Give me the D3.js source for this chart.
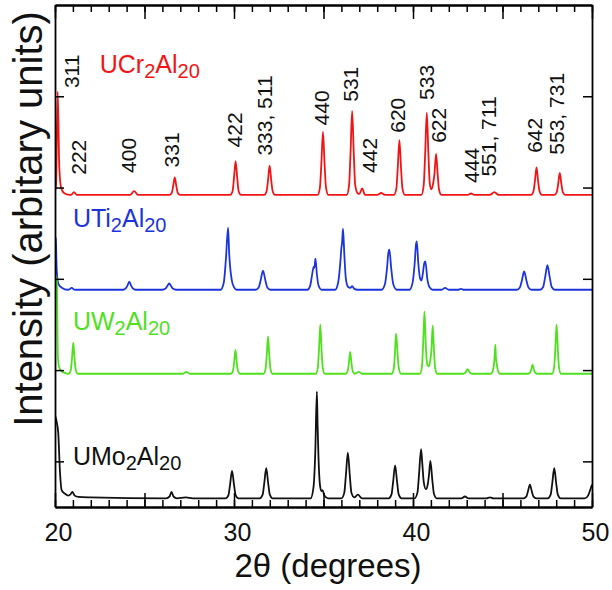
<!DOCTYPE html>
<html>
<head>
<meta charset="utf-8">
<script src="https://cdn.jsdelivr.net/npm/d3@7"></script>
<style>
  html, body { margin: 0; padding: 0; background: #fff; }
  svg { display: block; font-family: "Liberation Sans", Arial, Helvetica, sans-serif; }
</style>
</head>
<body>
<svg id="chart" width="612" height="590"></svg>
<script>
// ---------------- DATA ----------------
const seriesNames = ["UCr2Al20", "UTi2Al20", "UW2Al20", "UMo2Al20"];
const seriesColors = ["#f21414", "#1c34dc", "#4fe01e", "#111111"];
// vertical offsets of each pattern (arbitrary units)
const seriesOffsets = [342, 238, 146, 9.5];

// [2theta, intensity above own baseline]
const ucr = [[20.0,4],[20.06,12],[20.15,113],[20.24,30],[20.34,8],[20.5,2],[20.8,0],
  [20.9,0],[21.06,3],[21.22,0],
  [24.2,0],[24.42,4],[24.64,0],
  [26.39,0],[26.52,2],[26.60,9.5],[26.69,19],[26.78,9.5],[26.86,2],[26.99,0],
  [29.79,0],[29.92,4],[30.0,18.5],[30.09,37],[30.18,18.5],[30.26,4],[30.39,0],
  [31.69,0],[31.82,4],[31.90,16],[31.99,32],[32.08,16],[32.16,4],[32.29,0],
  [34.67,0],[34.8,8],[34.88,34],[34.97,69],[35.06,34],[35.14,8],[35.27,0],
  [36.3,0],[36.43,11],[36.51,46],[36.60,92],[36.69,46],[36.77,11],[36.9,2],[37.0,1],[37.16,7],[37.32,0],
  [38.0,0],[38.22,2],[38.44,0],
  [38.94,0],[39.07,7],[39.15,30],[39.24,60],[39.33,30],[39.41,7],[39.54,0],
  [40.47,0],[40.6,11],[40.68,45],[40.77,90],[40.86,45],[40.94,12],[41.03,6],[41.12,12],[41.2,23],[41.29,45],[41.38,22],[41.46,5],[41.59,0],
  [43.05,0],[43.24,1.5],[43.43,0],
  [44.3,0],[44.54,3],[44.78,0],
  [46.6,0],[46.73,4],[46.81,15],[46.90,30],[46.99,15],[47.07,4],[47.2,0],
  [47.9,0],[48.03,3],[48.11,12],[48.20,24],[48.29,12],[48.37,3],[48.5,0],
  [50,0]];

const uti = [[20.0,58],[20.04,56],[20.1,20],[20.2,6],[20.4,2],[20.7,0],
  [20.75,0],[20.93,2],[21.1,0],
  [23.8,0],[23.95,1.5],[24.05,4.5],[24.15,9],[24.25,4.5],[24.35,1.5],[24.5,0],
  [26.0,0],[26.16,1],[26.26,3.5],[26.38,7],[26.5,3.5],[26.6,1],[26.76,0],
  [29.25,0],[29.43,8],[29.55,34],[29.67,68],[29.73,40],[29.78,26],[29.88,10],[30.0,3],[30.15,0],
  [31.2,0],[31.38,2.5],[31.49,10.5],[31.62,21],[31.75,10.5],[31.86,2.5],[32.04,0],
  [34.1,0],[34.25,4],[34.36,16],[34.45,25],[34.49,24],[34.55,34],[34.63,17],[34.72,5],[34.9,0],
  [35.65,0],[35.82,8],[35.94,30],[36.0,46],[36.04,52],[36.09,67],[36.16,40],[36.25,12],[36.38,3],[36.5,2],[36.6,4],[36.72,1],[36.9,0],
  [38.25,0],[38.43,6],[38.55,24],[38.62,40],[38.68,44],[38.78,24],[38.9,6],[39.1,0],
  [39.8,0],[39.97,7],[40.09,28],[40.17,50],[40.21,53],[40.3,28],[40.4,12],[40.47,10],[40.55,18],[40.63,29],[40.69,31],[40.8,12],[40.92,3],[41.1,0],
  [41.6,0],[41.79,2],[42.0,0],
  [42.5,0],[42.68,1],[42.85,0],
  [45.8,0],[45.97,2.5],[46.08,10],[46.21,20],[46.34,10],[46.45,2.5],[46.62,0],
  [47.1,0],[47.27,3],[47.38,13.5],[47.51,27],[47.64,13.5],[47.75,3],[47.92,0],
  [50,0]];

const uw = [[20.0,109],[20.1,104],[20.16,20],[20.22,8],[20.35,3],[20.55,1],[20.75,0],
  [20.77,0],[20.88,4],[20.95,17],[21.02,34],[21.09,17],[21.16,4],[21.27,0],
  [27.15,0],[27.34,2],[27.53,0],
  [29.83,0],[29.94,3],[30.01,13],[30.08,26],[30.15,13],[30.22,3],[30.33,0],
  [31.65,0],[31.76,5],[31.83,20.5],[31.90,41],[31.97,20.5],[32.04,5],[32.15,0],
  [34.57,0],[34.68,6.5],[34.75,27],[34.82,54],[34.89,27],[34.96,6.5],[35.07,0],
  [36.24,0],[36.35,3],[36.42,12],[36.49,24],[36.56,12],[36.63,3],[36.74,0],[36.97,2],[37.15,0],
  [38.8,0],[38.92,5],[38.99,22],[39.05,44],[39.1,34],[39.15,18],[39.22,5],[39.33,0],
  [40.39,0],[40.5,8],[40.57,34],[40.64,68],[40.71,34],[40.78,12],[40.87,8],[40.96,14],[41.03,26],[41.10,53],[41.17,26],[41.24,6],[41.35,0],
  [42.8,0],[42.94,1.5],[43.05,5],[43.16,1.5],[43.3,0],
  [44.35,0],[44.47,4],[44.54,14],[44.6,32],[44.63,18],[44.67,12],[44.74,4],[44.85,0],
  [46.43,0],[46.54,1.2],[46.61,5],[46.68,10],[46.75,5],[46.82,1.2],[46.93,0],
  [47.77,0],[47.88,6.5],[47.95,27],[48.02,54],[48.09,27],[48.16,6.5],[48.27,0],
  [50,0]];

const umo = [[20.0,91],[20.08,85],[20.18,72],[20.28,28],[20.37,9],[20.56,5],[20.75,3],[20.85,4],[20.97,7],[21.1,3],[21.3,1.5],[22,1],
  [26.2,0],[26.4,2],[26.51,7],[26.62,2],[26.82,0],[27.3,1],[27.7,0],
  [29.53,0],[29.69,3.6],[29.78,15],[29.89,30],[30.0,15],[30.09,3.6],[30.25,0],
  [31.44,0],[31.6,4],[31.69,16.5],[31.80,33],[31.91,16.5],[32.0,4],[32.16,0],
  [34.28,0],[34.44,12],[34.54,50],[34.63,117],[34.67,80],[34.72,45],[34.8,15],[34.88,8],[34.95,9],[35.05,3],[35.25,0],
  [36.0,0],[36.16,6],[36.25,25],[36.36,50],[36.47,25],[36.56,6],[36.72,1],[36.92,4],[37.15,0],
  [38.64,0],[38.8,4.3],[38.89,18],[39.0,36],[39.11,18],[39.2,4.3],[39.36,0],
  [40.09,0],[40.25,6.5],[40.34,27],[40.45,54],[40.52,38],[40.6,18],[40.72,10],[40.83,16],[40.89,25],[40.97,41],[41.08,20],[41.17,5],[41.33,0],
  [42.7,0],[42.9,2],[43.1,0],
  [44.1,0],[44.3,1],[44.5,0],
  [46.17,0],[46.33,1.8],[46.42,7.5],[46.53,15],[46.64,7.5],[46.73,1.8],[46.89,0],
  [47.53,0],[47.69,4],[47.78,16.5],[47.89,33],[48.0,16.5],[48.09,4],[48.25,0],
  [49.6,0],[49.78,3],[49.88,8],[50,15]];

const seriesData = [ucr, uti, uw, umo];

// Miller-index annotations (label anchor in data coordinates)
const hklLabels = ["311","222","400","331","422","333, 511","440","531","442","620","533","622","444","551, 711","642","553, 731"];
const hklTheta  = [21.34,21.73,24.53,26.93,30.45,32.12,35.31,36.93,37.99,39.55,41.17,41.84,43.69,44.64,47.21,48.44];
const hklLevel  = [459,364,366,372,394,385,418,444,366,410,446,399,355,362,388,386];

// series-name label anchors (data coordinates)
const nameTheta = [22.5, 21.0, 21.0, 21.0];
const nameLevel = [476, 307, 194, 46];

const xMajorTicks = [20, 25, 30, 35, 40, 45, 50];
const xLabelTicks = [20, 30, 40, 50];
const yTicks = [50, 150, 250, 350, 450];
const xTitle = "2\u03B8 (degrees)";
const yTitle = "Intensity (arbitary units)";

// ---------------- DRAW ----------------
const svg = d3.select("#chart");
const L = 55, R = 592, T = 5, B = 507;
const x = d3.scaleLinear().domain([20, 50]).range([L, R]);
const y = d3.scaleLinear().domain([0, 550]).range([B, T]);

svg.append("defs").append("clipPath").attr("id", "clip")
  .append("rect").attr("x", L).attr("y", T).attr("width", R - L).attr("height", B - T);

// traces
const line = d3.line().x(d => x(d[0])).y(d => y(d[1])).curve(d3.curveMonotoneX);
const traces = svg.append("g").attr("clip-path", "url(#clip)");
seriesData.forEach((s, i) => {
  const off = seriesOffsets[i];
  traces.append("path")
    .datum(s.map(p => [p[0], p[1] + off]))
    .attr("d", line)
    .attr("fill", "none")
    .attr("stroke", seriesColors[i])
    .attr("stroke-width", 1.8)
    .attr("stroke-linejoin", "round");
});

// axes
function styleAxis(g) {
  g.selectAll("path.domain").attr("stroke", "#000").attr("stroke-width", 1.8);
  g.selectAll(".tick line").attr("stroke", "#000").attr("stroke-width", 1.5);
}
const minorX = d3.range(20, 51, 1);
svg.append("g").attr("transform", `translate(0,${B})`)
  .call(d3.axisBottom(x).tickValues(minorX).tickSize(-7).tickSizeOuter(0).tickFormat(""))
  .call(styleAxis);
svg.append("g").attr("transform", `translate(0,${B})`)
  .call(d3.axisBottom(x).tickValues(xMajorTicks).tickSize(-14).tickSizeOuter(0).tickFormat(""))
  .call(styleAxis);
const xl = svg.append("g").attr("transform", `translate(0,${B})`)
  .call(d3.axisBottom(x).tickValues(xLabelTicks).tickSize(0).tickPadding(16).tickFormat(d3.format("d")));
xl.select("path.domain").remove();
xl.selectAll("text").attr("font-size", 25).attr("fill", "#111").attr("dx", 3)
  .attr("font-family", "'Liberation Sans', Arial, sans-serif");

svg.append("g").attr("transform", `translate(0,${T})`)
  .call(d3.axisTop(x).tickValues(minorX).tickSize(-7).tickSizeOuter(0).tickFormat(""))
  .call(styleAxis);
svg.append("g").attr("transform", `translate(0,${T})`)
  .call(d3.axisTop(x).tickValues(xMajorTicks).tickSize(-14).tickSizeOuter(0).tickFormat(""))
  .call(styleAxis);
svg.append("g").attr("transform", `translate(${L},0)`)
  .call(d3.axisLeft(y).tickValues(yTicks).tickSize(-9).tickSizeOuter(0).tickFormat(""))
  .call(styleAxis);
svg.append("g").attr("transform", `translate(${R},0)`)
  .call(d3.axisRight(y).tickValues(yTicks).tickSize(-9).tickSizeOuter(0).tickFormat(""))
  .call(styleAxis);

// axis titles
svg.append("text").attr("x", 328).attr("y", 577).attr("text-anchor", "middle")
  .attr("font-size", 33).attr("fill", "#111").text(xTitle);
svg.append("text").attr("transform", "translate(41.5,219) rotate(-90)")
  .attr("text-anchor", "middle").attr("font-size", 40).attr("fill", "#111").text(yTitle);

// hkl annotations
hklLabels.forEach((t, i) => {
  svg.append("text")
    .attr("transform", `translate(${x(hklTheta[i])},${y(hklLevel[i])}) rotate(-90)`)
    .attr("font-size", 21).attr("fill", "#111").text(t);
});

// series names with subscripts
seriesNames.forEach((name, i) => {
  const t = svg.append("text").attr("x", x(nameTheta[i])).attr("y", y(nameLevel[i]))
    .attr("fill", seriesColors[i]).attr("font-size", 25);
  const parts = name.match(/\d+|\D+/g);
  let shifted = false;
  parts.forEach(p => {
    const isNum = /^\d+$/.test(p);
    const ts = t.append("tspan").text(p);
    if (isNum && !shifted) { ts.attr("font-size", 20).attr("dy", 5); shifted = true; }
    else if (!isNum && shifted) { ts.attr("dy", -5); shifted = false; }
    else if (isNum) ts.attr("font-size", 20);
  });
});
</script>
</body>
</html>
